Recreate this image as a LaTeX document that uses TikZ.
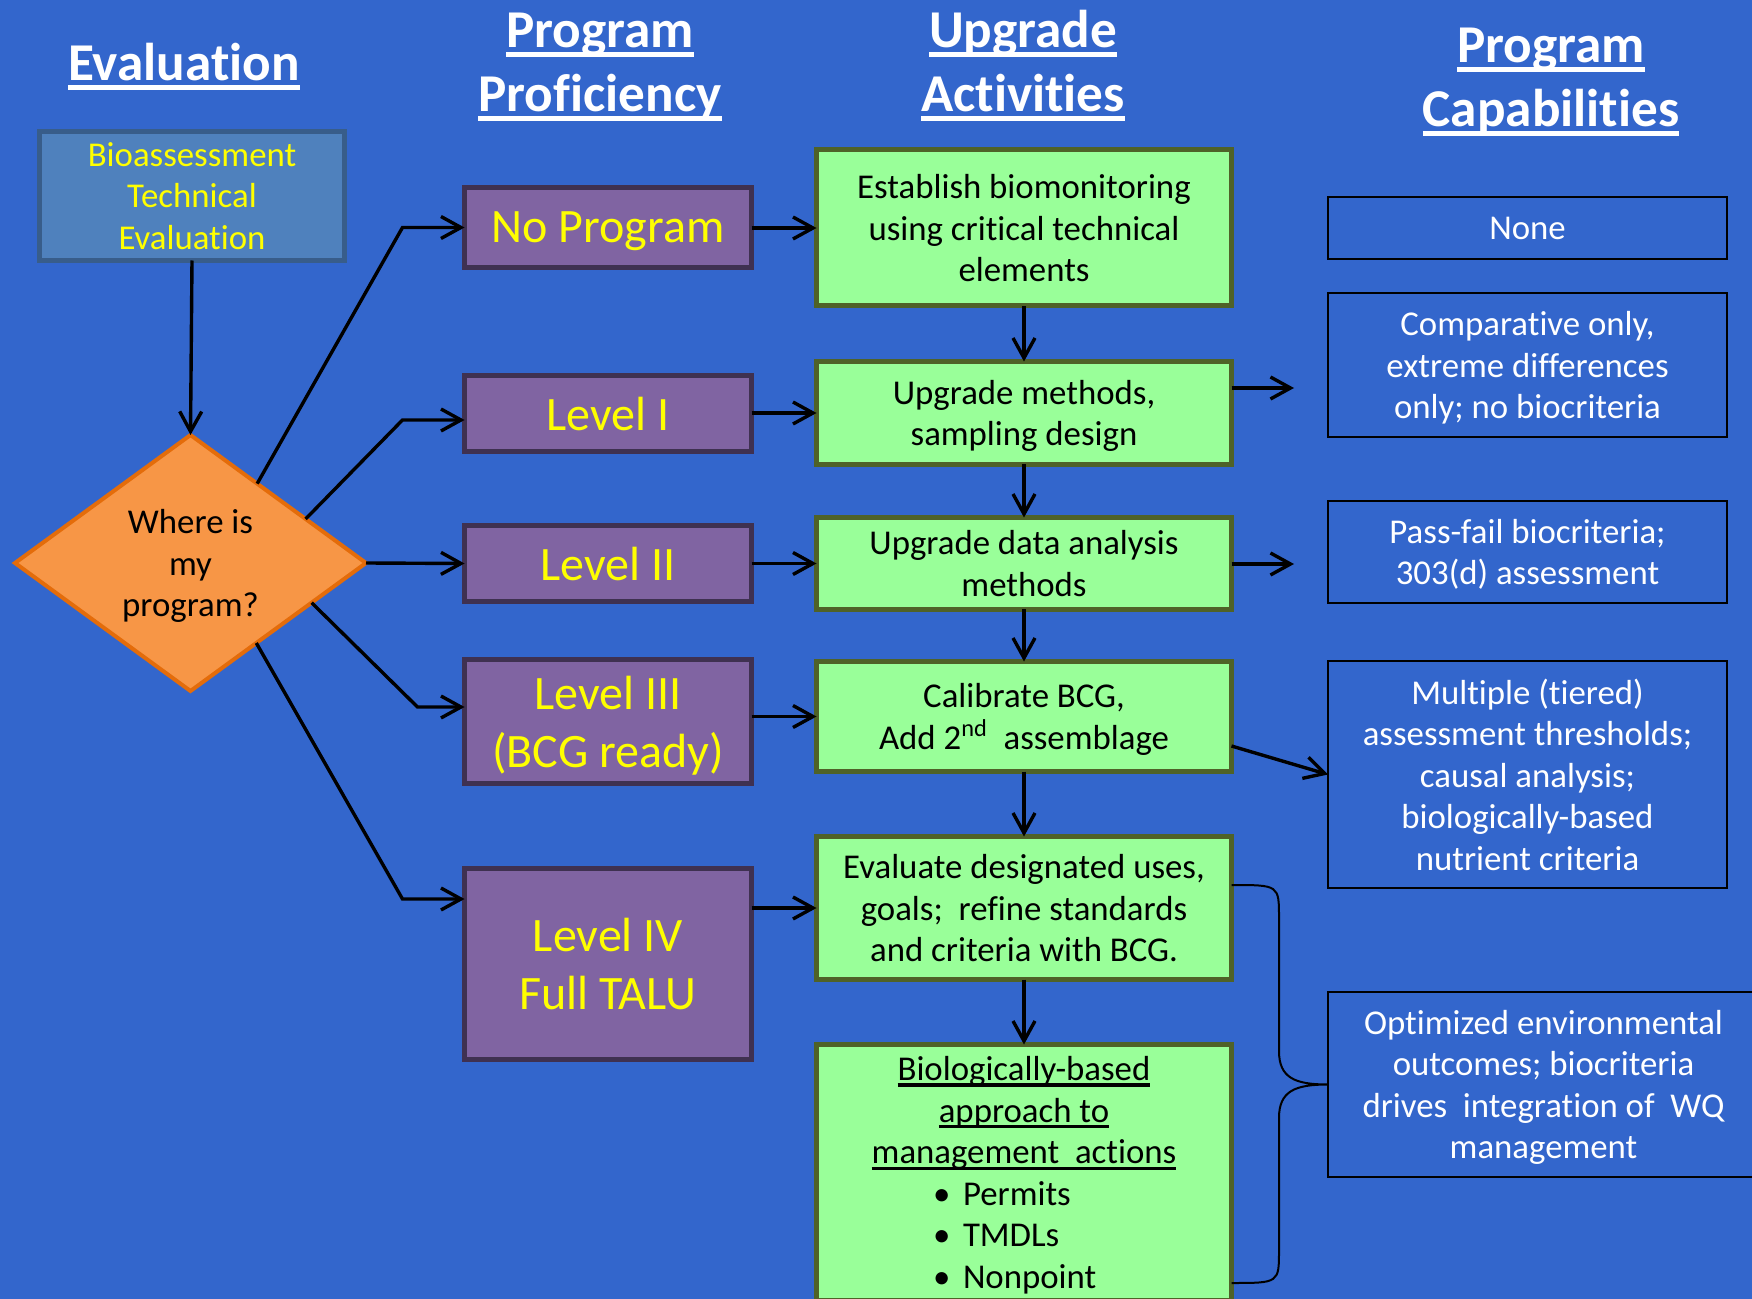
\documentclass[tikz,border=0pt]{standalone}
\usepackage{fontspec}
\setmainfont{Carlito}[Ligatures=NoCommon]
\usetikzlibrary{arrows.meta,shapes.geometric,calc}

\definecolor{bgblue}{HTML}{3366CC}
\definecolor{grfill}{HTML}{99FF99}
\definecolor{grdraw}{HTML}{4F6228}
\definecolor{pufill}{HTML}{8064A2}
\definecolor{pudraw}{HTML}{3F3151}
\definecolor{evfill}{HTML}{4F81BD}
\definecolor{evdraw}{HTML}{385D8A}
\definecolor{dmfill}{HTML}{F79646}
\definecolor{dmdraw}{HTML}{E46C0A}
\definecolor{ylw}{HTML}{FFFF00}

\newcommand\myul[1]{\setbox0=\hbox{#1}\leavevmode\rlap{\rule[-0.17em]{\wd0}{0.09em}}\box0}
\newcommand\bodyfont{\fontsize{17.4}{20.8}\selectfont}
\newcommand\bigfont{\fontsize{24}{29}\selectfont}
\newcommand\titlefont{\fontsize{26.6}{32}\selectfont\bfseries}
\newcommand\bul[1]{\makebox[89pt][l]{\makebox[14pt][l]{\hspace{-1pt}•}#1}}

\begin{document}
\begin{tikzpicture}[x=0.5pt,y=-0.5pt,
  greenbox/.style={draw=grdraw, fill=grfill, line width=2.5pt, align=center,
    inner sep=0pt, outer sep=0pt, font=\bodyfont, text=black, text depth=0pt,
    minimum width=207.5pt},
  purplebox/.style={draw=pudraw, fill=pufill, line width=2.5pt, align=center,
    inner sep=0pt, outer sep=0pt, font=\bigfont, text=ylw, text depth=0pt,
    minimum width=143.5pt},
  capbox/.style={draw=black, line width=1pt, align=center,
    inner sep=0pt, outer sep=0pt, font=\bodyfont, text=white, text depth=0pt,
    minimum width=199.5pt},
  evbox/.style={draw=evdraw, fill=evfill, line width=2.5pt, align=center,
    inner sep=0pt, outer sep=0pt, font=\bodyfont, text=ylw,
    minimum width=152.5pt, minimum height=64.5pt},
  dm/.style={diamond, draw=dmdraw, fill=dmfill, line width=2pt, align=center,
    inner sep=0pt, outer sep=0pt, font=\bodyfont, text=black, text depth=0pt,
    aspect=1.371, minimum width=175.5pt, minimum height=128pt},
  ttl/.style={anchor=base, text=white, font=\titlefont, inner sep=0pt},
  arr/.style={draw=black, line width=1.7pt,
    -{Straight Barb[length=10pt,width=11pt]}},
  brace/.style={draw=black, line width=1pt}
]
\useasboundingbox (0,0) rectangle (1752,1299);
\clip (0,0) rectangle (1752,1299);
\fill[bgblue] (0,0) rectangle (1752,1299);

% titles
\node[ttl] (t1)  at (184,81)  {\myul{Evaluation}};
\node[ttl] (t2a) at (600,48)  {\myul{Program}};
\node[ttl] (t2b) at (600,112) {\myul{Proficiency}};
\node[ttl] (t3a) at (1023,48) {\myul{Upgrade}};
\node[ttl] (t3b) at (1023,112){\myul{Activities}};
\node[ttl] (t4a) at (1551,63) {\myul{Program}};
\node[ttl] (t4b) at (1551,127){\myul{Capabilities}};

% left column
\node[evbox] (eval) at (192,196) {Bioassessment\\Technical\\Evaluation};
\node[dm] (dia) at (190.5,563) {Where is\\my\\program?};

% purple column
\node[purplebox, minimum height=40pt]   (np)  at (608,227.5) {No Program};
\node[purplebox, minimum height=38pt]   (lv1) at (608,413.5) {Level I};
\node[purplebox, minimum height=38pt]   (lv2) at (608,563.5) {Level II};
\node[purplebox, minimum height=62pt]   (lv3) at (608,721.5) {Level III\\(BCG ready)};
\node[purplebox, minimum height=95.5pt] (lv4) at (608,964)   {Level IV\\Full TALU};

% green column
\node[greenbox, minimum height=78pt]   (est) at (1024,228)   {Establish biomonitoring\\using critical technical\\elements};
\node[greenbox, minimum height=51.5pt] (um)  at (1024,413)   {Upgrade methods,\\sampling design};
\node[greenbox, minimum height=46pt]   (ud)  at (1024,563.5) {Upgrade data analysis\\methods};
\node[greenbox, minimum height=55pt]   (cal) at (1024,716.5) {Calibrate BCG,\\Add 2\textsuperscript{nd}\ \ assemblage};
\node[greenbox, minimum height=71.5pt] (eva) at (1024,908)   {Evaluate designated uses,\\goals;\ \ refine standards\\and criteria with BCG.};
\node[greenbox, minimum height=128pt]  (bio) at (1024,1172.5)
  {\myul{Biologically-based}\\\myul{approach to}\\\myul{management\ \ actions}\\
   \bul{Permits}\\\bul{TMDLs}\\\bul{Nonpoint}};

% capability column
\node[capbox, minimum height=31pt]    (none) at (1527.5,228)   {None};
\node[capbox, minimum height=72pt]    (comp) at (1527.5,365)   {Comparative only,\\extreme differences\\only; no biocriteria};
\node[capbox, minimum height=51pt]    (pass) at (1527.5,552)   {Pass-fail biocriteria;\\303(d) assessment};
\node[capbox, minimum height=113.5pt] (mul)  at (1527.5,774.5) {Multiple (tiered)\\assessment thresholds;\\causal analysis;\\biologically-based\\nutrient criteria};
\node[capbox, minimum width=215.5pt, minimum height=92.5pt] (opt) at (1543.5,1084.5)
  {Optimized environmental\\outcomes; biocriteria\\drives\ \ integration of\ \ WQ\\management};

% connectors from evaluation
\draw[arr] (eval.south) -- (dia.north);
\draw[arr] ($(dia.north)!0.38!(dia.east)$) -- ([xshift=-31pt]np.west) -- (np.west);
\draw[arr] ($(dia.north)!0.656!(dia.east)$) -- ([xshift=-31pt,yshift=-3.25pt]lv1.west) -- ([yshift=-3.25pt]lv1.west);
\draw[arr] (dia.east) -- (lv2.west);
\draw[arr] ($(dia.east)!0.31!(dia.south)$) -- ([xshift=-23.5pt,yshift=7.25pt]lv3.west) -- ([yshift=7.25pt]lv3.west);
\draw[arr] ($(dia.east)!0.625!(dia.south)$) -- ([xshift=-31pt,yshift=32.5pt]lv4.west) -- ([yshift=32.5pt]lv4.west);

% purple to green
\draw[arr] (np.east |- est.west) -- (est.west);
\draw[arr] (lv1.east |- um.west) -- (um.west);
\draw[arr] (lv2.east |- ud.west) -- (ud.west);
\draw[arr] (lv3.east |- cal.west) -- (cal.west);
\draw[arr] (lv4.east |- eva.west) -- (eva.west);

% green vertical chain
\draw[arr] (est.south) -- (um.north);
\draw[arr] (um.south) -- (ud.north);
\draw[arr] (ud.south) -- (cal.north);
\draw[arr] (cal.south) -- (eva.north);
\draw[arr] (eva.south) -- (bio.north);

% green to capabilities
\coordinate (c1) at (1294,388);
\coordinate (c2) at (1294,564);
\draw[arr] (um.east |- c1) -- (c1);
\draw[arr] (ud.east |- c2) -- (c2);
\draw[arr] ([yshift=-14.75pt]cal.east) -- (mul.west);

% brace
\draw[brace] ([yshift=11.5pt]eva.east) .. controls (1279,885) .. (1279,918)
  -- (1279,1051) .. controls (1279,1078) and (1295,1084.5) .. (opt.west)
  .. controls (1295,1084.5) and (1279,1091) .. (1279,1118)
  -- (1279,1250) .. controls (1279,1283) .. ([yshift=-55.25pt]bio.east);
\end{tikzpicture}
\end{document}
